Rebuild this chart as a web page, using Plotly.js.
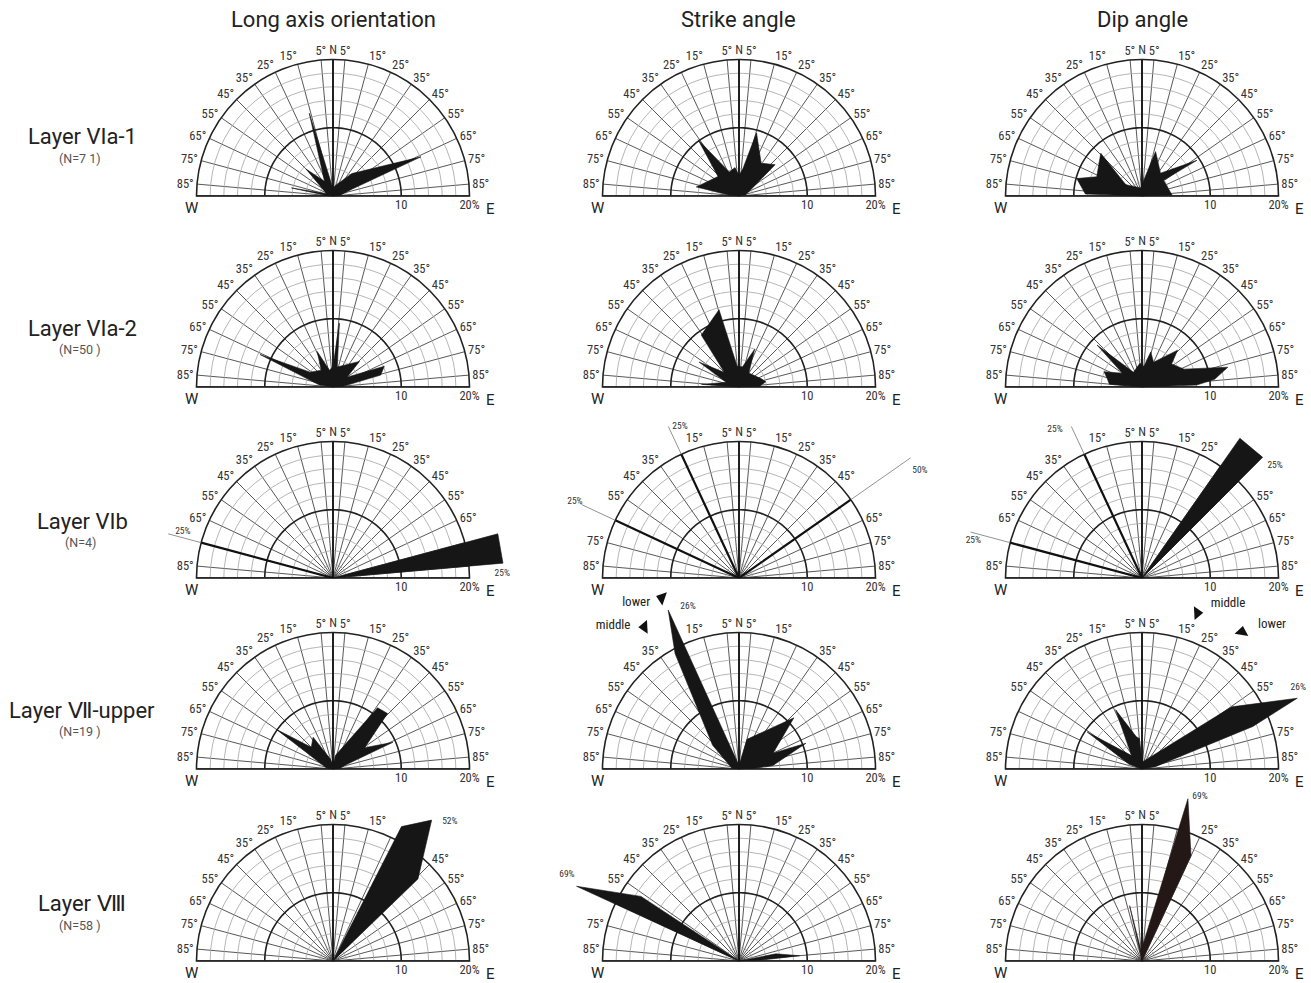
<!DOCTYPE html>
<html><head><meta charset="utf-8">
<script src="https://cdn.plot.ly/plotly-3.0.1.min.js"></script>
<style>html,body{margin:0;padding:0;background:#fff;overflow:hidden;width:1311px;height:983px}
#chart{position:absolute;left:-120px;top:-120px;width:1551px;height:1223px}</style>
</head><body><div id="chart"></div>
<script>
// ---------------- DATA ----------------
const columnTitles = ['Long axis orientation', 'Strike angle', 'Dip angle'];
const layerNames = ['Layer VIa-1', 'Layer VIa-2', 'Layer VIb', 'Layer Ⅶ-upper', 'Layer Ⅷ'];
const layerCounts = ['(N=7 1)', '(N=50 )', '(N=4)', '(N=19 )', '(N=58 )'];

// direction ticks: azimuth (deg from N, negative = W) and their labels
const tickAz = [-90,-85,-75,-65,-55,-45,-35,-25,-15,-5,0,5,15,25,35,45,55,65,75,85,90];
const tickLabels = ['','85°','75°','65°','55°','45°','35°','25°','15°','5°','N','5°','15°','25°','35°','45°','55°','65°','75°','85°',''];
const radialTicks = [2,4,6,8,10,12,14,16,18,20];
const radialLabels = ['','','','','10','','','','','20%'];

// rose outlines: azimuth (deg) and frequency (%) of each vertex
const longVIa1_az = [0,-85,-79,-70,-45,-30,-16,-8,0,10,40,66,70,85,0];
const longVIa1_r  = [0,1,6.2,1,5.6,2.5,12.6,2,1,1.5,4.3,14.1,3,1,0];
const strikeVIa1_az = [0,-85,-78,-47,-36,-22,-8,0,8,15.5,34,49,55,80,0];
const strikeVIa1_r  = [0,1.5,6.4,4.2,10.2,3.8,4.2,3.0,4.0,9.6,5.8,7.0,3.2,1,0];
const dipVIa1_az = [0,-88,-75,-67,-44,-55,-10,17,39,57,54,88,0];
const dipVIa1_r  = [0,8.3,9.9,7.2,8.7,2.9,1.2,6.8,4.3,9.6,3.9,4.4,0];

const longVIa2_az = [0,-82,-66,-57,-35,-24,-12,0,5.7,12,46,55,68,76,86,0];
const longVIa2_r  = [0,2,11.7,4,3,5.7,2.5,3,9.4,3,5.4,2.5,8.1,7.2,1.5,0];
const strikeVIa2_az = [0,-86,-70,-58,-45,-36,-14.5,-5,10,22.5,35,70,79,88,0];
const strikeVIa2_r  = [0,5.5,2,6.9,3,9.4,11.7,3,3,6.0,2.5,3.5,4.0,3,0];
const dipVIa2_az = [0,-85,-77,-68,-55,-47,-30,-5,5,14,25,44,52,67,77,84,88,0];
const dipVIa2_r  = [0,4.8,5.2,6.0,3.5,9.0,2.5,3.5,3.0,5.3,4.0,7.5,5.5,6.7,12.9,10.7,8,0];

const longVIb_az = [0,75,85,0];
const longVIb_r  = [0,25,25,0];
const longVIb_lineAz = [-75];
const longVIb_lineR  = [25];
const strikeVIb_lineAz = [-65,-25,55];
const strikeVIb_lineR  = [25.5,24.5,30.7];
const dipVIb_az = [0,35,45,0];
const dipVIb_r  = [0,25,25,0];
const dipVIb_lineAz = [-75,-25];
const dipVIb_lineR  = [26,24.5];

const longVII_az = [0,-80,-55,-45,-32,-15,0,10,36,44.5,56,66,72,85,0];
const longVII_r  = [0,1,10.1,4.5,5.5,1.5,0.5,2,11.1,11.4,5.6,9.6,2.0,1,0];
const strikeVII_az = [0,-85,-48,-29,-24,0,15,47,65,69,84,88,0];
const strikeVII_r  = [0,1,5.2,19.3,25.5,0.5,4.5,11.0,5.5,10.5,5.0,2,0];
const dipVII_az = [0,-70,-56,-38,-24,-10,-5,0,55.3,65.5,69,80,0];
const dipVII_r  = [0,2,9.7,2.5,9.5,4.8,4.5,1,16.0,25.0,17.4,2,0];

const longVIII_az = [0,27,35,46,0];
const longVIII_r  = [0,22.1,25.2,17.3,0];
const strikeVIII_az = [0,-65.3,-56.6,0,79,85,88,0];
const strikeVIII_r  = [0,26.2,17.2,0,5.5,8.9,3,0];
const dipVIII_az = [0,-12.6,-5,15.8,25,0];
const dipVIII_r  = [0,8.3,1.5,24.7,17.0,0];

// value labels of out-of-scale petals
const lblVIbLong   = ['25%','25%'];
const lblVIbStrike = ['25%','25%','50%'];
const lblVIbDip    = ['25%','25%','25%'];
const lblVIIStrike = ['26%'];
const lblVIIDip    = ['26%'];
const lblVIIILong  = ['52%'];
const lblVIIIStrike= ['69%'];
const lblVIIIDip   = ['69%'];
const sublayerNames = ['lower','middle'];

// ---------------- LAYOUT HELPERS ----------------
const P = 120;                     // hidden paper border around the visible window
const W = 1311, H = 983, W2 = W + 2*P, H2 = H + 2*P, R = 136.5;
const BIG = 32, RB = R * BIG / 20; // overlay polar that can show petals beyond 20 %
const colX = [333, 739, 1142];
const rowY = [196, 387, 578, 769, 961];
const th = a => 90 - a;
const px = x => (x + P) / W2;
const py = y => 1 - (y + P) / H2;
const FONT = 'Roboto, "Liberation Sans", sans-serif';
const NARROW = '"Liberation Sans Narrow", "Roboto Condensed", Roboto, sans-serif';

const panels = [
  {row:0,col:0,polys:[[longVIa1_az,longVIa1_r]]},
  {row:0,col:1,polys:[[strikeVIa1_az,strikeVIa1_r]]},
  {row:0,col:2,polys:[[dipVIa1_az,dipVIa1_r]]},
  {row:1,col:0,polys:[[longVIa2_az,longVIa2_r]]},
  {row:1,col:1,polys:[[strikeVIa2_az,strikeVIa2_r]]},
  {row:1,col:2,polys:[[dipVIa2_az,dipVIa2_r]]},
  {row:2,col:0,polys:[[longVIb_az,longVIb_r]],lines:[longVIb_lineAz,longVIb_lineR], hide:[-75,75,85],
     labels:{text:lblVIbLong, az:[88.6,-73], r:[24.8,23.0]}},
  {row:2,col:1,polys:[],lines:[strikeVIb_lineAz,strikeVIb_lineR], hide:[-65,-25,55],
     labels:{text:lblVIbStrike, az:[-21.3,-65.1,59.4], r:[23.8,26.5,30.8]}},
  {row:2,col:2,polys:[[dipVIb_az,dipVIb_r]],lines:[dipVIb_lineAz,dipVIb_lineR], hide:[-75,-25,35,45],
     labels:{text:lblVIbDip, az:[-77.6,-30.4,49.9], r:[25.3,25.2,25.5]}},
  {row:3,col:0,polys:[[longVII_az,longVII_r]]},
  {row:3,col:1,polys:[[strikeVII_az,strikeVII_r]], hide:[-25,25],
     labels:{text:lblVIIStrike, az:[-17.4], r:[25.0]},
     marks:{az:[-24.3,-33.7], r:[27.5,25.0], rot:[-71,-93], taz:[-31.8,-41.4], tr:[28.6,27.9]}},
  {row:3,col:2,polys:[[dipVII_az,dipVII_r]], hide:[-65,65],
     labels:{text:lblVIIDip, az:[62.6], r:[25.8]},
     marks:{az:[36.1,19.5], r:[24.85,24.25], rot:[9,87], taz:[42.1,27.5], tr:[28.4,27.3]}},
  {row:4,col:0,polys:[[longVIII_az,longVIII_r]], hide:[25,35],
     labels:{text:lblVIIILong, az:[39.9], r:[26.7]}},
  {row:4,col:1,polys:[[strikeVIII_az,strikeVIII_r]], hide:[-65],
     labels:{text:lblVIIIStrike, az:[-63.4], r:[28.2]}},
  {row:4,col:2,polys:[[dipVIII_az,dipVIII_r]], fill:'#231815', hide:[15],
     labels:{text:lblVIIIDip, az:[19.4], r:[25.6]}}
];

const arcTheta = []; for (let t = 0; t <= 180; t += 2) arcTheta.push(t);

const layout = {
  width: W2, height: H2, margin:{l:0,r:0,t:0,b:0},
  paper_bgcolor:'#fff', showlegend:false, annotations:[],
  font:{family:FONT, color:'#222'}
};
const baseTraces = [], overTraces = [];

function polarCfg(cx, cy, hide){
  const txt = tickLabels.map((t, k) => (hide && hide.indexOf(tickAz[k]) >= 0) ? '' : t);
  return {
    domain:{x:[px(cx-R), px(cx+R)], y:[py(cy), py(cy-R)]},
    sector:[0,180], bgcolor:'rgba(0,0,0,0)',
    radialaxis:{range:[0,20], tickmode:'array', tickvals:radialTicks, ticktext:radialLabels,
      showline:false, ticks:'', angle:0, side:'clockwise', gridcolor:'#a3a3a3', gridwidth:0.8,
      tickfont:{family:NARROW, size:12.5, color:'#333'}, layer:'below traces'},
    angularaxis:{direction:'counterclockwise', rotation:0, tickmode:'array',
      tickvals:tickAz.map(th), ticktext:txt, showline:true, linecolor:'#222', linewidth:1.6,
      gridcolor:'#444', gridwidth:0.9, ticks:'', tickfont:{family:NARROW, size:12.5, color:'#333'},
      layer:'below traces'}
  };
}
function overlayCfg(cx, cy){
  return {
    domain:{x:[px(cx-RB), px(cx+RB)], y:[py(cy), py(cy-RB)]},
    sector:[0,180], bgcolor:'rgba(0,0,0,0)',
    radialaxis:{range:[0,BIG], visible:false, showgrid:false, showline:false, showticklabels:false},
    angularaxis:{direction:'counterclockwise', rotation:0, visible:false, showgrid:false,
      showline:false, showticklabels:false}
  };
}

const n = panels.length;
panels.forEach((p, i) => {
  const base = i === 0 ? 'polar' : 'polar' + (i + 1);
  const over = 'polar' + (i + 1 + n);
  const cx = colX[p.col], cy = rowY[p.row];
  layout[base] = polarCfg(cx, cy, p.hide);
  layout[over] = overlayCfg(cx, cy);
  const cb = {subplot:base, hoverinfo:'skip', showlegend:false};
  const co = {subplot:over, hoverinfo:'skip', showlegend:false, cliponaxis:false};
  // 10% circle and N / baseline emphasis
  baseTraces.push(Object.assign({type:'scatterpolar', mode:'lines', r:arcTheta.map(()=>10), theta:arcTheta,
    line:{color:'#222', width:1.6}}, cb));
  baseTraces.push(Object.assign({type:'scatterpolar', mode:'lines', r:[0,20], theta:[90,90],
    line:{color:'#111', width:1.8}}, cb));
  baseTraces.push(Object.assign({type:'scatterpolar', mode:'lines', r:[20,0,20], theta:[0,0,180],
    line:{color:'#222', width:1.6}}, cb));
  // petals
  p.polys.forEach(([az, r]) => {
    overTraces.push(Object.assign({type:'scatterpolar', mode:'lines', fill:'toself',
      fillcolor:p.fill || '#161616', r:r, theta:az.map(th),
      line:{color:p.fill || '#161616', width:0.6}}, co));
  });
  // single-direction lines
  if (p.lines) {
    const [laz, lr] = p.lines;
    laz.forEach((a, k) => {
      overTraces.push(Object.assign({type:'scatterpolar', mode:'lines', r:[0, Math.min(lr[k],20)], theta:[th(a),th(a)],
        line:{color:'#111', width:2.2}}, co));
      if (lr[k] > 20) overTraces.push(Object.assign({type:'scatterpolar', mode:'lines', r:[20, lr[k]], theta:[th(a),th(a)],
        line:{color:'#777', width:0.8}}, co));
    });
  }
  if (p.labels) {
    overTraces.push(Object.assign({type:'scatterpolar', mode:'text', r:p.labels.r, theta:p.labels.az.map(th),
      text:p.labels.text, textposition:'middle center', textfont:{family:NARROW, size:9.5, color:'#333'}}, co));
  }
  if (p.marks) {
    p.marks.az.forEach((a, k) => {
      overTraces.push(Object.assign({type:'scatterpolar', mode:'markers', r:[p.marks.r[k]], theta:[th(a)],
        marker:{symbol:'triangle-up', size:12, color:'#111', angle:p.marks.rot[k], line:{width:0}}}, co));
    });
    overTraces.push(Object.assign({type:'scatterpolar', mode:'text', r:p.marks.tr, theta:p.marks.taz.map(th),
      text:sublayerNames, textposition:'middle center', textfont:{family:NARROW, size:13, color:'#222'}}, co));
  }
  // W / E labels
  layout.annotations.push({xref:'paper', yref:'paper', x:px(cx-142), y:py(cy+12), text:'W',
    showarrow:false, font:{family:FONT, size:15, color:'#222'}, xanchor:'center', yanchor:'middle'});
  layout.annotations.push({xref:'paper', yref:'paper', x:px(cx+157), y:py(cy+13), text:'E',
    showarrow:false, font:{family:FONT, size:15, color:'#222'}, xanchor:'center', yanchor:'middle'});
});

columnTitles.forEach((t, c) => {
  layout.annotations.push({xref:'paper', yref:'paper', x:px(colX[c]), y:py(20), text:t, showarrow:false,
    font:{family:FONT, size:22, color:'#222'}, xanchor:'center', yanchor:'middle'});
});
const rowLabelY = [136, 328, 521, 710, 903];
layerNames.forEach((t, r) => {
  layout.annotations.push({xref:'paper', yref:'paper', x:px(82), y:py(rowLabelY[r]), text:t, showarrow:false,
    font:{family:FONT, size:22, color:'#222'}, xanchor:'center', yanchor:'middle'});
  layout.annotations.push({xref:'paper', yref:'paper', x:px(80), y:py(rowLabelY[r]+22), text:layerCounts[r], showarrow:false,
    font:{family:FONT, size:12.5, color:'#555'}, xanchor:'center', yanchor:'middle'});
});

Plotly.newPlot('chart', baseTraces.concat(overTraces), layout, {staticPlot:true, displayModeBar:false});
</script></body></html>
